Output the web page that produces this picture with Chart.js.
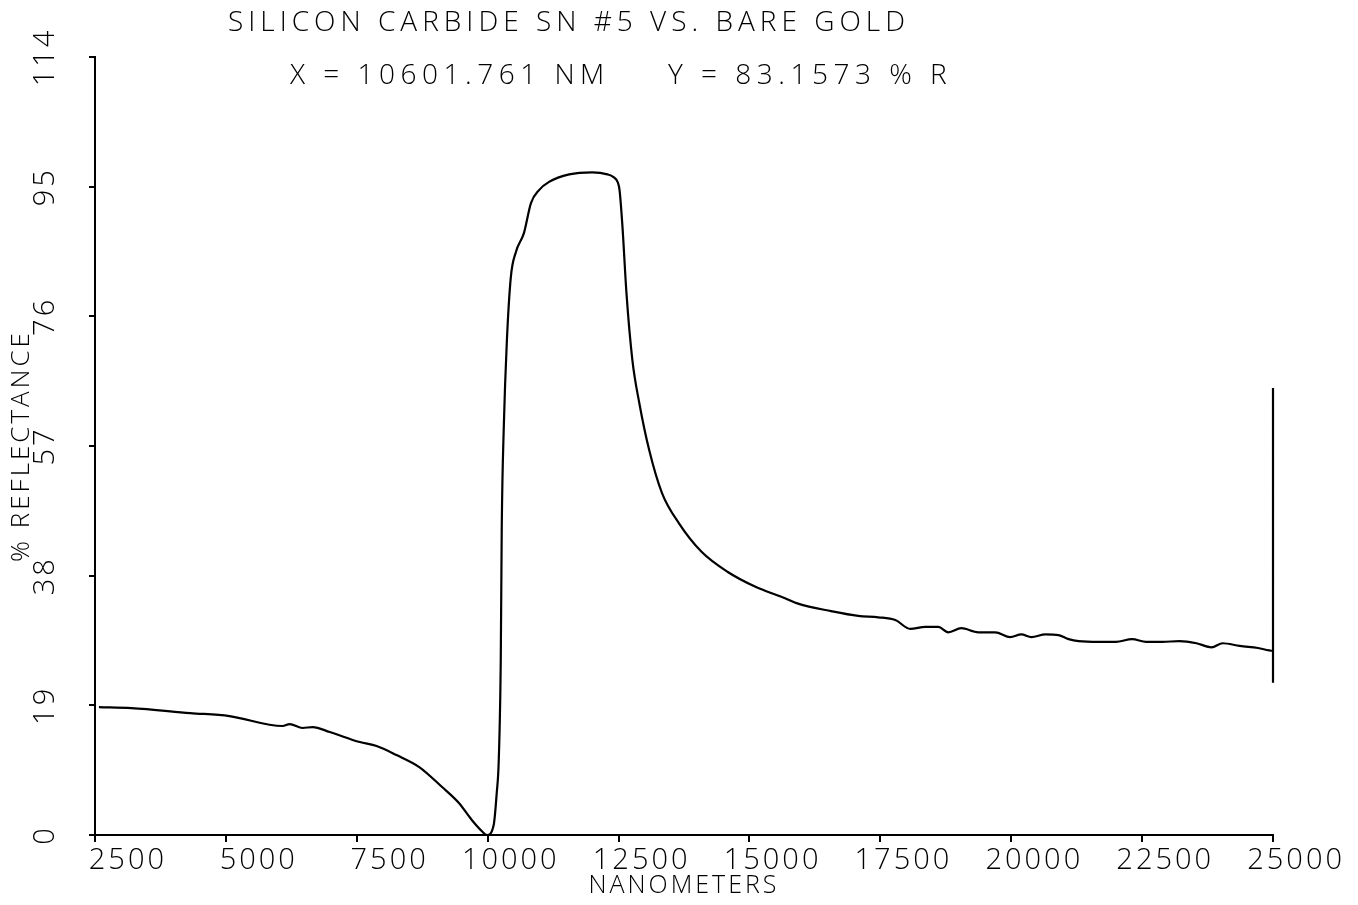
<!DOCTYPE html>
<html>
<head>
<meta charset="utf-8">
<title>Silicon Carbide SN #5 vs. Bare Gold</title>
<script src="https://cdn.jsdelivr.net/npm/chart.js@4.4.1/dist/chart.umd.min.js"></script>
<style>
    html, body { margin: 0; padding: 0; background: #fff; }
    #wrap { width: 1358px; height: 905px; }
</style>
</head>
<body>
<div id="wrap"><canvas id="chart" width="1358" height="905"></canvas></div>
<script>
// Wavelength (nm)
const wavelengthNm = [
    2575, 3193, 4317, 5067, 6083, 6217, 6466, 6657, 6983, 7557,
    7879, 8258, 8693, 9129, 9451, 9697, 9886, 9990, 10115, 10173,
    10212, 10250, 10269, 10308, 10365, 10442, 10538, 10692, 10827, 10981,
    11173, 11557, 11999, 12288, 12404, 12481, 12519, 12575, 12651, 12764,
    12896, 13085, 13330, 13651, 14085, 14594, 15105, 15297, 15680, 15929,
    16561, 17078, 17462, 17786, 18073, 18359, 18607, 18798, 19046, 19370,
    19695, 19981, 20192, 20385, 20654, 20904, 21096, 21288, 21673, 22000,
    22308, 22577, 22885, 23212, 23539, 23827, 24038, 24365, 24712, 25000,
    25000, 25000
];

// % reflectance at each wavelength
const reflectance = [
    18.75, 18.6, 17.87, 17.43, 15.97, 16.26, 15.68, 15.82, 15.09, 13.62,
    13.04, 11.72, 9.96, 7.03, 4.69, 2.20, 0.59, 0.0, 1.46, 6.15,
    11.0, 25.6, 45.1, 59.8, 72.1, 81.7, 85.4, 88.2, 92.6, 94.5,
    95.7, 96.8, 97.1, 96.8, 96.4, 95.7, 94.5, 89.1, 79.4, 69.6,
    63.3, 56.4, 50.1, 45.7, 41.5, 38.5, 36.4, 35.8, 34.7, 33.9,
    32.8, 32.1, 31.9, 31.5, 30.2, 30.5, 30.5, 29.7, 30.3, 29.7,
    29.7, 29.0, 29.4, 29.0, 29.4, 29.3, 28.7, 28.4, 28.3, 28.3,
    28.7, 28.3, 28.3, 28.4, 28.1, 27.5, 28.1, 27.7, 27.4, 27.0,
    22.3, 65.5
];

// Axis ranges and steps
const xRange = [2500, 25000];
const xStep = 2500;
const yRange = [0, 114];
const yStep = 19;

// Header texts
const titleText = 'SILICON CARBIDE SN #5 VS. BARE GOLD';
const cursorX = 'X = 10601.761 NM';
const cursorY = 'Y = 83.1573 % R';

document.addEventListener('DOMContentLoaded', function () {
    const fontFamily = '"Open Sans", "DejaVu Sans", sans-serif';

    const points = wavelengthNm.map((x, i) => ({ x: x, y: reflectance[i] }));

    // Plotter-like header drawn over the top of the plot
    const headerPlugin = {
        id: 'header',
        beforeDraw(chart) {
            chart.ctx.letterSpacing = '3px';
        },
        afterDraw(chart) {
            const ctx = chart.ctx;
            ctx.save();
            ctx.fillStyle = '#000';
            ctx.textAlign = 'left';
            ctx.textBaseline = 'alphabetic';
            ctx.font = '300 28px ' + fontFamily;
            ctx.letterSpacing = '5px';
            ctx.fillText(titleText, 228, 31);
            ctx.letterSpacing = '5.5px';
            ctx.fillText(cursorX, 290, 84);
            ctx.fillText(cursorY, 668, 84);
            ctx.restore();
        }
    };

    const ctx = document.getElementById('chart').getContext('2d');

    new Chart(ctx, {
        type: 'scatter',
        data: {
            datasets: [{
                data: points,
                showLine: true,
                borderColor: '#000',
                borderWidth: 2.2,
                pointRadius: 0,
                cubicInterpolationMode: 'monotone',
                clip: false
            }]
        },
        options: {
            responsive: false,
            animation: false,
            devicePixelRatio: 1,
            layout: { padding: { top: 57, right: 85, left: 0, bottom: 0 } },
            plugins: {
                legend: { display: false },
                tooltip: { enabled: false }
            },
            scales: {
                x: {
                    type: 'linear',
                    min: xRange[0],
                    max: xRange[1],
                    ticks: {
                        stepSize: xStep,
                        align: 'end',
                        labelOffset: 72,
                        padding: 1,
                        color: '#000',
                        font: { family: fontFamily, size: 29, weight: '300' },
                        callback: v => String(v)
                    },
                    grid: {
                        drawOnChartArea: false,
                        drawTicks: true,
                        tickLength: 7,
                        color: '#000',
                        lineWidth: 2
                    },
                    border: { display: true, color: '#000', width: 2 },
                    title: {
                        display: true,
                        text: 'NANOMETERS',
                        color: '#000',
                        font: { family: fontFamily, size: 25, weight: '300' },
                        padding: { top: 0, bottom: 4 }
                    },
                    afterFit(scale) {
                        scale.height = 70;
                        scale.paddingLeft = 0;
                        scale.paddingRight = 0;
                    }
                },
                y: {
                    min: yRange[0],
                    max: yRange[1],
                    ticks: {
                        stepSize: yStep,
                        minRotation: 90,
                        maxRotation: 90,
                        crossAlign: 'center',
                        padding: 18,
                        color: '#000',
                        font: { family: fontFamily, size: 29, weight: '300' },
                        callback: v => String(v)
                    },
                    grid: {
                        drawOnChartArea: false,
                        drawTicks: true,
                        tickLength: 6,
                        color: '#000',
                        lineWidth: 2
                    },
                    border: { display: true, color: '#000', width: 2 },
                    title: {
                        display: true,
                        text: '% REFLECTANCE',
                        color: '#000',
                        font: { family: fontFamily, size: 26, weight: '300' },
                        padding: { top: 6, bottom: 0 }
                    },
                    afterFit(scale) {
                        scale.width = 95;
                        scale.paddingTop = 0;
                        scale.paddingBottom = 0;
                    }
                }
            }
        },
        plugins: [headerPlugin]
    });
});
</script>
</body>
</html>
